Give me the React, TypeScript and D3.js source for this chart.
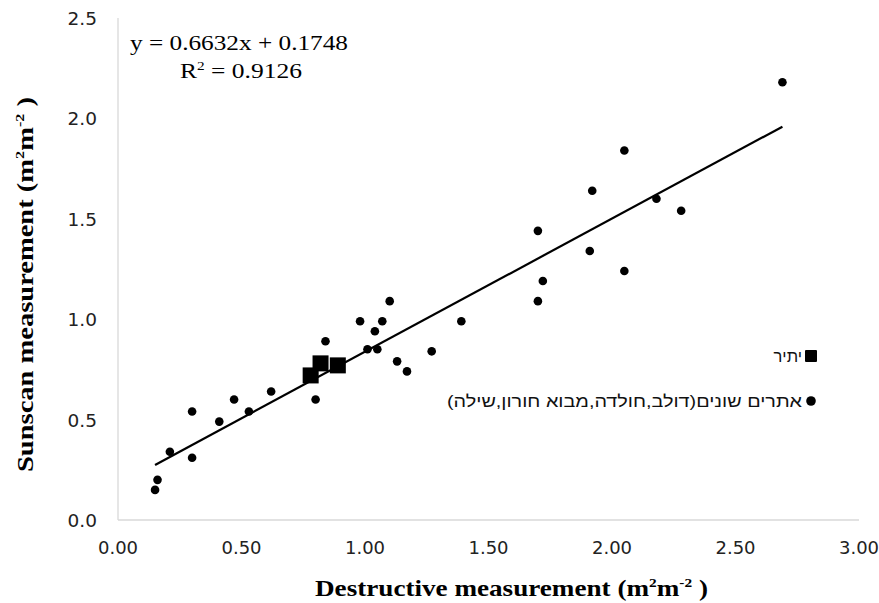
import React from "react";
import * as d3 from "d3";

const yatirX = [0.78, 0.82, 0.89];
const yatirY = [0.72, 0.78, 0.77];

const otherX = [0.15, 0.16, 0.21, 0.30, 0.30, 0.41, 0.47, 0.53, 0.62, 0.80, 0.84, 0.98, 1.01, 1.04, 1.05, 1.07, 1.10, 1.13, 1.17, 1.27, 1.39, 1.70, 1.72, 1.70, 1.91, 1.92, 2.05, 2.05, 2.18, 2.28, 2.69];
const otherY = [0.15, 0.20, 0.34, 0.31, 0.54, 0.49, 0.60, 0.54, 0.64, 0.60, 0.89, 0.99, 0.85, 0.94, 0.85, 0.99, 1.09, 0.79, 0.74, 0.84, 0.99, 1.44, 1.19, 1.09, 1.34, 1.64, 1.84, 1.24, 1.60, 1.54, 2.18];

const slope = 0.6632;
const intercept = 0.1748;
const xTicks = [0, 0.5, 1, 1.5, 2, 2.5, 3];
const yTicks = [0, 0.5, 1, 1.5, 2, 2.5];
const legendLabels = ["יתיר", "אתרים שונים(דולב,חולדה,מבוא חורון,שילה)"];

export default function App() {
  const W = 879, H = 603;
  const x = d3.scaleLinear().domain([0, 3]).range([118, 859]);
  const y = d3.scaleLinear().domain([0, 2.5]).range([520, 18]);

  const allX = [...yatirX, ...otherX];
  const xMin = d3.min(allX) as number;
  const xMax = d3.max(allX) as number;
  const line = d3.line<number>().x((d) => x(d)).y((d) => y(slope * d + intercept));

  const tickFont = "'DejaVu Sans', Verdana, sans-serif";
  const serif = "'Liberation Serif', 'Times New Roman', serif";
  const hebFont = "'Liberation Sans', 'DejaVu Sans', sans-serif";

  return (
    <svg width={W} height={H} style={{ position: "absolute", left: 0, top: 0, background: "#fff" }}>
      <rect x={0} y={0} width={W} height={H} fill="#fff" />
      {/* axes */}
      <line x1={x(0)} x2={x(0)} y1={y(2.5)} y2={y(0)} stroke="#d9d9d9" strokeWidth={1.3} />
      <line x1={x(0)} x2={x(3)} y1={y(0)} y2={y(0)} stroke="#d9d9d9" strokeWidth={1.3} />

      {xTicks.map((t) => (
        <text key={"x" + t} x={x(t)} y={554} textAnchor="middle" fontFamily={tickFont} fontSize={18} fill="#222">
          {t.toFixed(2)}
        </text>
      ))}
      {yTicks.map((t) => (
        <text key={"y" + t} x={97} y={y(t) + 7} textAnchor="end" fontFamily={tickFont} fontSize={18.5} fill="#222">
          {t.toFixed(1)}
        </text>
      ))}

      {/* trendline */}
      <path d={line([xMin, xMax]) || ""} stroke="#000" strokeWidth={2.2} fill="none" />

      {/* points */}
      {otherX.map((v, i) => (
        <circle key={"o" + i} cx={x(v)} cy={y(otherY[i])} r={4.3} fill="#000" />
      ))}
      {yatirX.map((v, i) => (
        <rect key={"s" + i} x={x(v) - 8} y={y(yatirY[i]) - 8} width={16} height={16} fill="#000" />
      ))}

      {/* equation */}
      <text x={130} y={50} fontFamily={serif} fontSize={20} fill="#000" textLength={218} lengthAdjust="spacingAndGlyphs">y = 0.6632x + 0.1748</text>
      <text x={180} y={78} fontFamily={serif} fontSize={20} fill="#000" textLength={122} lengthAdjust="spacingAndGlyphs">
        R<tspan fontSize={12} dy={-8}>2</tspan><tspan dy={8}> = 0.9126</tspan>
      </text>

      {/* legend */}
      <rect x={805} y={350} width={12} height={12} fill="#000" rx={1} />
      <text x={802} y={362} direction="rtl" style={{ direction: "rtl" }} textAnchor="start" fontFamily={hebFont} fontSize={16.5} fill="#111">
        {legendLabels[0]}
      </text>
      <circle cx={811} cy={401} r={4.8} fill="#000" />
      <text x={802} y={407} direction="rtl" style={{ direction: "rtl" }} textAnchor="start" fontFamily={hebFont} fontSize={16.5} fill="#111" textLength={355} lengthAdjust="spacingAndGlyphs">
        {legendLabels[1]}
      </text>

      {/* axis titles */}
      <text x={315} y={596} textAnchor="start" fontFamily={serif} fontWeight="bold" fontSize={23} fill="#000" textLength={393} lengthAdjust="spacingAndGlyphs">
        Destructive measurement (m<tspan fontSize={13} dy={-9}>2</tspan><tspan dy={9}>m</tspan><tspan fontSize={13} dy={-9}>-2</tspan><tspan dy={9}> )</tspan>
      </text>
      <text transform={`translate(33, 472) rotate(-90)`} textAnchor="start" fontFamily={serif} fontWeight="bold" fontSize={23} fill="#000" textLength={375} lengthAdjust="spacingAndGlyphs">
        Sunscan measurement (m<tspan fontSize={13} dy={-9}>2</tspan><tspan dy={9}>m</tspan><tspan fontSize={13} dy={-9}>-2</tspan><tspan dy={9}> )</tspan>
      </text>
    </svg>
  );
}
